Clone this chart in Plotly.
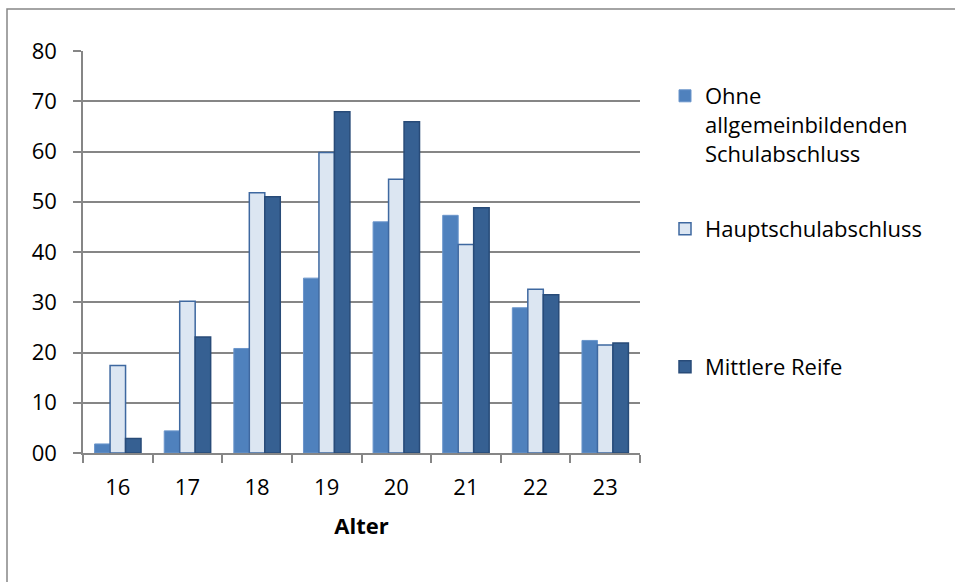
import plotly.graph_objects as go

# Alter (Jahre)
ages = ["16", "17", "18", "19", "20", "21", "22", "23"]

ohne_abschluss = [1.8, 4.4, 20.8, 34.8, 46.0, 47.3, 28.9, 22.4]
hauptschulabschluss = [17.4, 30.2, 51.8, 59.8, 54.5, 41.5, 32.6, 21.5]
mittlere_reife = [2.9, 23.1, 51.0, 67.9, 65.9, 48.8, 31.5, 21.9]

series_names = [
    "Ohne<br>allgemeinbildenden<br>Schulabschluss",
    "Hauptschulabschluss",
    "Mittlere Reife",
]

y_ticks = [0, 10, 20, 30, 40, 50, 60, 70, 80]
y_tick_labels = ["00", "10", "20", "30", "40", "50", "60", "70", "80"]

FONT = "Open Sans"
FS = 22
GRID = "#868686"

# plot area in pixels (canvas 955 x 582)
W, H = 955, 582
PL, PR, PT, PB = 83, 640, 51, 453


def px_x(x):
    return (x - PL) / (PR - PL)


def px_y(y):
    return (PB - y) / (PB - PT)


fig = go.Figure()
fig.add_bar(x=ages, y=ohne_abschluss, name=series_names[0], legend="legend",
            marker=dict(color="#4F81BD", line=dict(color="#6A95CB", width=1)))
fig.add_bar(x=ages, y=hauptschulabschluss, name=series_names[1], legend="legend2",
            marker=dict(color="#DCE6F2", line=dict(color="#3E68A0", width=1.5)))
fig.add_bar(x=ages, y=mittlere_reife, name=series_names[2], legend="legend3",
            marker=dict(color="#366092", line=dict(color="#284B78", width=1.5)))

legend_common = dict(
    xanchor="left",
    font=dict(family=FONT, size=FS, color="#000000"),
    bgcolor="rgba(0,0,0,0)",
    valign="top",
    itemclick=False,
    itemdoubleclick=False,
)

fig.update_layout(
    width=W,
    height=H,
    margin=dict(l=PL, r=W - PR, t=PT, b=H - PB),
    paper_bgcolor="#FFFFFF",
    plot_bgcolor="#FFFFFF",
    font=dict(family=FONT, size=FS, color="#000000"),
    barmode="group",
    bargap=0.333,
    bargroupgap=0,
    showlegend=True,
    legend=dict(x=px_x(665), y=px_y(75), yanchor="top", **legend_common),
    legend2=dict(x=px_x(665), y=px_y(229), yanchor="middle", **legend_common),
    legend3=dict(x=px_x(665), y=px_y(367), yanchor="middle", **legend_common),
    xaxis=dict(
        type="category",
        tickson="boundaries",
        ticks="outside",
        ticklen=8,
        tickwidth=1.5,
        tickcolor=GRID,
        showline=True,
        linecolor=GRID,
        linewidth=1.5,
        showgrid=False,
        tickfont=dict(family=FONT, size=FS),
        ticklabelstandoff=14,
        title=dict(text="<b>Alter</b>", font=dict(family=FONT, size=FS), standoff=18),
    ),
    yaxis=dict(
        range=[0, 80],
        tickvals=y_ticks,
        ticktext=y_tick_labels,
        ticks="outside",
        ticklen=8,
        tickwidth=1.5,
        tickcolor=GRID,
        showline=True,
        linecolor=GRID,
        linewidth=1.5,
        showgrid=True,
        gridcolor=GRID,
        gridwidth=1.5,
        zeroline=False,
        tickfont=dict(family=FONT, size=FS),
        ticklabelstandoff=12,
    ),
    shapes=[
        # chart frame (extends past the canvas on the right and bottom)
        dict(type="rect", xref="paper", yref="paper",
             x0=px_x(7), y0=px_y(H + 20), x1=px_x(W + 20), y1=px_y(9),
             line=dict(color=GRID, width=1.5), fillcolor="rgba(0,0,0,0)",
             layer="below"),
    ],
)

fig.write_html("out.html")
